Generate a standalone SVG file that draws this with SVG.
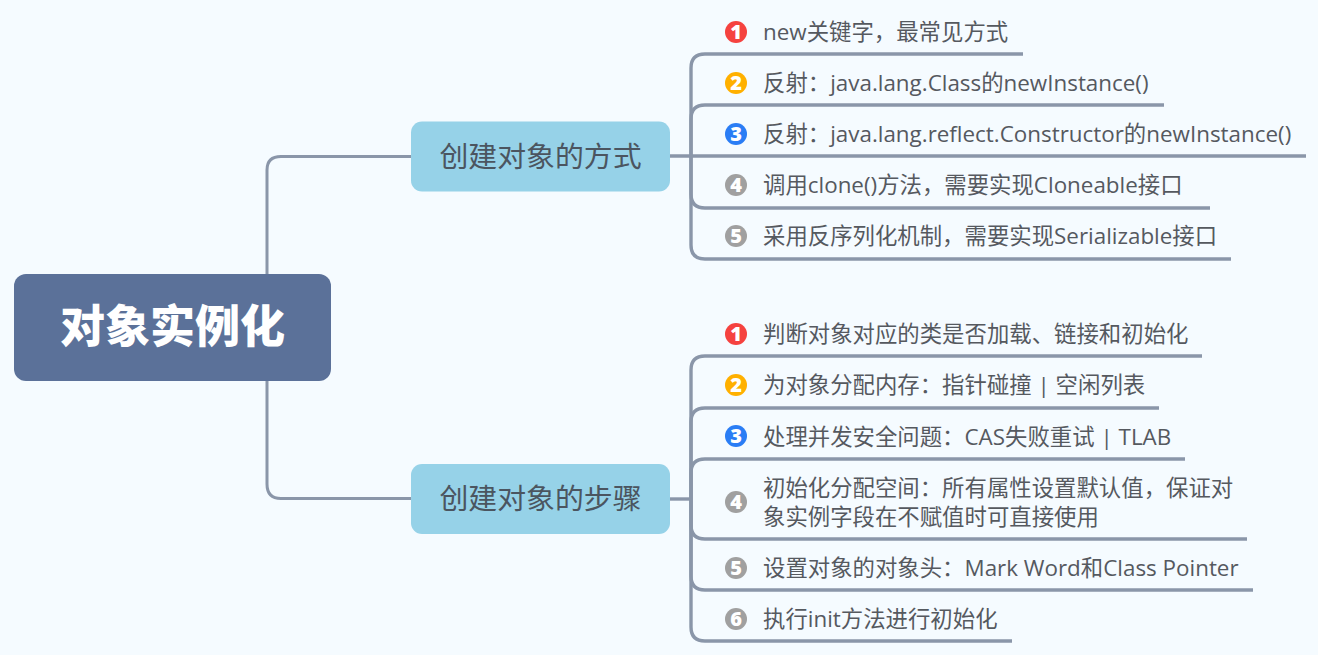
<svg xmlns="http://www.w3.org/2000/svg" width="1318" height="655" viewBox="0 0 1318 655">
<style>
.bg{fill:#f5fbff}
.c{fill:none;stroke:#8a96a9;stroke-width:3.4}
.c0{fill:none;stroke:#8a96a9;stroke-width:3}
.t{font-family:"Open Sans","Noto Sans CJK SC",sans-serif;font-size:22.4px;fill:#55595f}
.h{font-family:"Open Sans","Noto Sans CJK SC",sans-serif;font-size:28.9px;fill:#4b5560;text-anchor:middle}
.r{font-family:"Noto Sans CJK SC",sans-serif;font-size:45px;font-weight:900;fill:#fff;text-anchor:middle}
.n{font-family:"Open Sans","DejaVu Sans",sans-serif;font-size:20px;font-weight:800;fill:#fff;text-anchor:middle}
</style>
<rect class="bg" width="1318" height="655"/>
<g id="connectors">
<path class="c0" d="M267 275V170Q267 156.500 281 156.500H412"/>
<path class="c0" d="M267 380V484Q267 498.500 281 498.500H412"/>
<path class="c" d="M669 156H1306"/>
<path class="c" d="M1023 54H705Q691 54 691 68V245Q691 259 705 259H1231"/>
<path class="c" d="M1164 105H705Q691 105 691 119V156"/>
<path class="c" d="M691 156V194Q691 208 705 208H1210"/>
<path class="c" d="M669 499H691"/>
<path class="c" d="M1202 356H705Q691 356 691 370V627Q691 641 705 641H1012"/>
<path class="c" d="M1159 408H705Q691 408 691 422V499"/>
<path class="c" d="M1185 459H705Q691 459 691 473V525Q691 539 705 539H1247"/>
<path class="c" d="M691 499V576Q691 590 705 590H1253"/>
</g>
<g id="root"><rect x="14" y="274" width="317" height="107" rx="12" fill="#5b7199"/><text class="r" x="172.500" y="343">对象实例化</text></g>
<g id="branch1"><rect x="411" y="121.500" width="259" height="70" rx="11" fill="#96d2e8"/><text class="h" x="540.500" y="166.500">创建对象的方式</text></g>
<g id="branch2"><rect x="411" y="464" width="259" height="70" rx="11" fill="#96d2e8"/><text class="h" x="540.500" y="509">创建对象的步骤</text></g>
<g id="a1"><circle cx="736" cy="32" r="11" fill="#f5423f"/><text class="n" x="736" y="39">1</text><text class="t" x="763" y="40">new关键字，最常见方式</text></g>
<g id="a2"><circle cx="736" cy="83" r="11" fill="#ffb000"/><text class="n" x="736" y="90">2</text><text class="t" x="763" y="91">反射：java.lang.Class的newInstance()</text></g>
<g id="a3"><circle cx="736" cy="134" r="11" fill="#2a7df5"/><text class="n" x="736" y="141">3</text><text class="t" x="763" y="142">反射：java.lang.reflect.Constructor的newInstance()</text></g>
<g id="a4"><circle cx="736" cy="185" r="11" fill="#a0a0a0"/><text class="n" x="736" y="192">4</text><text class="t" x="763" y="193">调用clone()方法，需要实现Cloneable接口</text></g>
<g id="a5"><circle cx="736" cy="236" r="11" fill="#a0a0a0"/><text class="n" x="736" y="243">5</text><text class="t" x="763" y="244">采用反序列化机制，需要实现Serializable接口</text></g>
<g id="b1"><circle cx="736" cy="334" r="11" fill="#f5423f"/><text class="n" x="736" y="341">1</text><text class="t" x="763" y="342">判断对象对应的类是否加载、链接和初始化</text></g>
<g id="b2"><circle cx="736" cy="385" r="11" fill="#ffb000"/><text class="n" x="736" y="392">2</text><text class="t" x="763" y="393">为对象分配内存：指针碰撞 | 空闲列表</text></g>
<g id="b3"><circle cx="736" cy="436" r="11" fill="#2a7df5"/><text class="n" x="736" y="443">3</text><text class="t" x="763" y="445">处理并发安全问题：CAS失败重试 | TLAB</text></g>
<g id="b4"><circle cx="736" cy="502" r="11" fill="#a0a0a0"/><text class="n" x="736" y="509">4</text><text class="t" x="763" y="496">初始化分配空间：所有属性设置默认值，保证对</text><text class="t" x="763" y="525">象实例字段在不赋值时可直接使用</text></g>
<g id="b5"><circle cx="736" cy="568" r="11" fill="#a0a0a0"/><text class="n" x="736" y="575">5</text><text class="t" x="763" y="576">设置对象的对象头：Mark Word和Class Pointer</text></g>
<g id="b6"><circle cx="736" cy="619" r="11" fill="#a0a0a0"/><text class="n" x="736" y="626">6</text><text class="t" x="763" y="627">执行init方法进行初始化</text></g>
</svg>
